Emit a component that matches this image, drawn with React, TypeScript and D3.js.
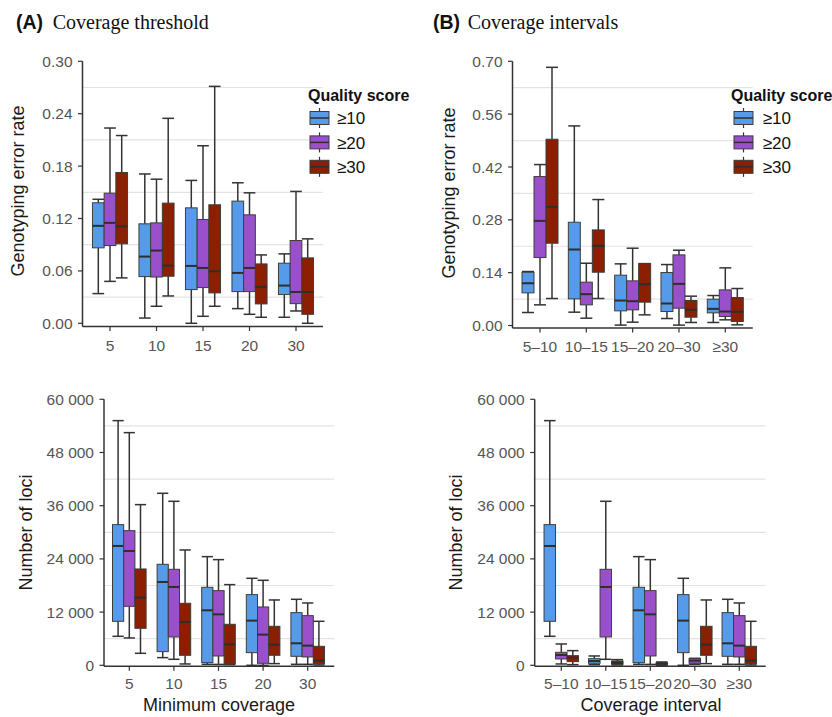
import React from "react";
import * as d3 from "d3";

// ---------- data: [min, q1, median, q3, max] ----------
const qualityScores = ["≥10", "≥20", "≥30"];
const thresholdCats = ["5", "10", "15", "20", "30"];
const intervalCats = ["5–10", "10–15", "15–20", "20–30", "≥30"];

const errThreshQ10 = [[0.034, 0.0864, 0.1116, 0.138, 0.142], [0.006, 0.0535, 0.0764, 0.1139, 0.171], [0.0, 0.0386, 0.0657, 0.1322, 0.1636], [0.0168, 0.0363, 0.0577, 0.1399, 0.1609], [0.0069, 0.0329, 0.0432, 0.0688, 0.0795]];
const errThreshQ20 = [[0.048, 0.089, 0.115, 0.149, 0.2236], [0.0195, 0.053, 0.0833, 0.115, 0.165], [0.008, 0.0409, 0.0634, 0.1189, 0.2033], [0.0103, 0.0363, 0.0634, 0.1242, 0.1494], [0.0141, 0.0225, 0.0359, 0.0948, 0.151]];
const errThreshQ30 = [[0.052, 0.091, 0.111, 0.1727, 0.215], [0.0313, 0.0539, 0.066, 0.1376, 0.2347], [0.0195, 0.0348, 0.0596, 0.1357, 0.2713], [0.0069, 0.0222, 0.0417, 0.068, 0.0783], [0.0, 0.0103, 0.0359, 0.0749, 0.0967]];

const errIntQ10 = [[0.0344, 0.0865, 0.112, 0.141, 0.143], [0.0353, 0.0706, 0.2013, 0.2736, 0.5288], [0.001, 0.0388, 0.0662, 0.1333, 0.1633], [0.0185, 0.037, 0.0583, 0.1403, 0.1615], [0.008, 0.0335, 0.0441, 0.0697, 0.0794]];
const errIntQ20 = [[0.0547, 0.18, 0.2772, 0.3946, 0.4264], [0.0194, 0.0547, 0.083, 0.1148, 0.165], [0.0088, 0.0415, 0.0644, 0.1183, 0.2048], [0.001, 0.0459, 0.1103, 0.1871, 0.1995], [0.015, 0.0238, 0.037, 0.0944, 0.1527]];
const errIntQ30 = [[0.0715, 0.218, 0.3143, 0.4935, 0.684], [0.0715, 0.1412, 0.211, 0.2533, 0.3337], [0.0282, 0.0618, 0.1095, 0.164, 0.164], [0.008, 0.022, 0.0415, 0.0662, 0.0777], [0.0018, 0.0106, 0.0362, 0.0741, 0.098]];

const lociThreshQ10 = [[6541, 9925, 26917, 31729, 55188], [1729, 3083, 18797, 22782, 38797], [225, 600, 12406, 17594, 24511], [0, 2857, 10075, 15940, 19624], [225, 2030, 4962, 11880, 14887]];
const lociThreshQ20 = [[6165, 13308, 25789, 30376, 52481], [1353, 6391, 17669, 21654, 36992], [200, 2105, 11504, 16842, 23835], [0, 451, 6917, 13158, 19173], [225, 1880, 4436, 11203, 14060]];
const lociThreshQ30 = [[2707, 8346, 15263, 21729, 36241], [300, 2256, 9774, 13985, 26015], [150, 300, 4737, 9248, 18195], [376, 2256, 4662, 8797, 14737], [75, 300, 1053, 4286, 9925]];

const lociIntQ10 = [[6541, 9925, 26917, 31729, 55188], [150, 451, 977, 1504, 2105], [225, 600, 12406, 17594, 24511], [0, 2857, 10075, 15940, 19624], [225, 2030, 4962, 11880, 14887]];
const lociIntQ20 = [[300, 1429, 2331, 2932, 4812], [1353, 6391, 17669, 21654, 36992], [200, 2105, 11504, 16842, 23835], [225, 451, 1053, 1504, 1579], [225, 1880, 4436, 11203, 14060]];
const lociIntQ30 = [[150, 827, 1729, 2180, 3308], [75, 225, 526, 977, 1278], [0, 150, 376, 600, 752], [376, 2256, 4662, 8797, 14737], [75, 300, 1053, 4286, 9925]];

const errThreshTicks = [0, 0.06, 0.12, 0.18, 0.24, 0.3];
const errIntTicks = [0, 0.14, 0.28, 0.42, 0.56, 0.7];
const lociTicks = [0, 12000, 24000, 36000, 48000, 60000];

const colors = ["#559bea", "#9a50cb", "#8b1f00"];
const SANS = '"Liberation Sans", Arial, Helvetica, sans-serif';
const SERIF = '"Liberation Serif", "Times New Roman", serif';
const AXIS = "#333333";

type PanelProps = {
  series: number[][][];
  cats: string[];
  ticks: number[];
  fmt: (v: number) => string;
  axisX: number;
  axisEnd: number;
  yTop: number;
  yZero: number;
  axisY: number;
  catFirst: number;
  catLast: number;
  boxW: number;
  xTickY: number;
  yTitle: string;
  yTitleX: number;
  yTitleY: number;
  xTitle?: string;
  xTitleX?: number;
  xTitleY?: number;
  legend?: { titleX: number; boxX: number; textX: number };
};

function Panel(p: PanelProps) {
  const y = d3.scaleLinear().domain([p.ticks[0], p.ticks[p.ticks.length - 1]]).range([p.yZero, p.yTop]);
  const x = d3.scalePoint<string>().domain(p.cats).range([p.catFirst, p.catLast]);
  const grid = p.ticks.slice(0, -1).map((t, i) => (t + p.ticks[i + 1]) / 2);
  const offsets = [-p.boxW, 0, p.boxW];
  return (
    <g>
      {grid.map((g, i) => (
        <line key={"g" + i} x1={p.axisX} x2={p.axisEnd} y1={y(g)} y2={y(g)} stroke="#e3e3e3" strokeWidth={1.2} />
      ))}
      {p.series.map((ser, si) =>
        ser.map((d, ci) => {
          const cx = (x(p.cats[ci]) as number) + offsets[si];
          const [mn, q1, md, q3, mx] = d;
          const hw = p.boxW / 2;
          return (
            <g key={si + "-" + ci}>
              <line x1={cx} x2={cx} y1={y(mx)} y2={y(q3)} stroke={AXIS} strokeWidth={1.5} />
              <line x1={cx} x2={cx} y1={y(q1)} y2={y(mn)} stroke={AXIS} strokeWidth={1.5} />
              <line x1={cx - hw} x2={cx + hw} y1={y(mx)} y2={y(mx)} stroke={AXIS} strokeWidth={1.5} />
              <line x1={cx - hw} x2={cx + hw} y1={y(mn)} y2={y(mn)} stroke={AXIS} strokeWidth={1.5} />
              <rect x={cx - hw} y={y(q3)} width={p.boxW} height={Math.max(0.8, y(q1) - y(q3))} fill={colors[si]} stroke="#3d3d3d" strokeWidth={1} />
              <line x1={cx - hw} x2={cx + hw} y1={y(md)} y2={y(md)} stroke="#2e2e2e" strokeWidth={2} />
            </g>
          );
        })
      )}
      {/* axes */}
      <line x1={p.axisX} x2={p.axisX} y1={y(p.ticks[p.ticks.length - 1])} y2={p.axisY} stroke={AXIS} strokeWidth={1.5} />
      <line x1={p.axisX} x2={p.axisEnd} y1={p.axisY} y2={p.axisY} stroke={AXIS} strokeWidth={1.5} />
      {p.ticks.map((t, i) => (
        <g key={"yt" + i}>
          <line x1={p.axisX - 4.5} x2={p.axisX} y1={y(t)} y2={y(t)} stroke={AXIS} strokeWidth={1.2} />
          <text x={p.axisX - 10} y={y(t)} dy="0.36em" textAnchor="end" fontFamily={SANS} fontSize={15.5} fill="#555">
            {p.fmt(t)}
          </text>
        </g>
      ))}
      {p.cats.map((c) => (
        <g key={"xt" + c}>
          <line x1={x(c)} x2={x(c)} y1={p.axisY} y2={p.axisY + 4.5} stroke={AXIS} strokeWidth={1.2} />
          <text x={x(c)} y={p.xTickY} textAnchor="middle" fontFamily={SANS} fontSize={15.5} fill="#555">
            {c}
          </text>
        </g>
      ))}
      <text transform={`translate(${p.yTitleX},${p.yTitleY}) rotate(-90)`} textAnchor="middle" fontFamily={SANS} fontSize={18} fill="#1a1a1a">
        {p.yTitle}
      </text>
      {p.xTitle && (
        <text x={p.xTitleX} y={p.xTitleY} textAnchor="middle" fontFamily={SANS} fontSize={18} fill="#1a1a1a">
          {p.xTitle}
        </text>
      )}
      {p.legend && (
        <g>
          <text x={p.legend.titleX} y={100.5} fontFamily={SANS} fontWeight="bold" fontSize={16} fill="#111">
            Quality score
          </text>
          {qualityScores.map((q, i) => {
            const cy = 118 + i * 24.4;
            const bx = p.legend!.boxX;
            const bw = 19;
            return (
              <g key={"lg" + i}>
                <line x1={bx + bw / 2} x2={bx + bw / 2} y1={cy - 10} y2={cy + 10} stroke={AXIS} strokeWidth={1.2} />
                <rect x={bx} y={cy - 6.5} width={bw} height={13} fill={colors[i]} stroke="#3d3d3d" strokeWidth={1} />
                <line x1={bx} x2={bx + bw} y1={cy} y2={cy} stroke="#2e2e2e" strokeWidth={1.5} />
                <text x={p.legend!.textX} y={cy} dy="0.36em" fontFamily={SANS} fontSize={17} fill="#111">
                  {q}
                </text>
              </g>
            );
          })}
        </g>
      )}
    </g>
  );
}

const errFmt = d3.format(".2f");
const lociFmt = (v: number) => d3.format(",")(v).replace(/,/g, " ");

export default function App() {
  return (
    <svg width={832} height={717} style={{ position: "absolute", left: 0, top: 0, background: "#fff" }}>
      <rect x={0} y={0} width={832} height={717} fill="#fff" />
      <text x={16} y={28.5} fontFamily={SANS} fontWeight="bold" fontSize={19.5} fill="#111">(A)</text>
      <text x={52.7} y={28.5} fontFamily={SERIF} fontSize={20} fill="#111">Coverage threshold</text>
      <text x={433} y={28.5} fontFamily={SANS} fontWeight="bold" fontSize={19.5} fill="#111">(B)</text>
      <text x={467.7} y={28.5} fontFamily={SERIF} fontSize={20} fill="#111">Coverage intervals</text>

      <Panel
        series={[errThreshQ10, errThreshQ20, errThreshQ30]}
        cats={thresholdCats}
        ticks={errThreshTicks}
        fmt={errFmt}
        axisX={82.5}
        axisEnd={323}
        yTop={61.3}
        yZero={323.3}
        axisY={326.5}
        catFirst={110}
        catLast={296}
        boxW={11.7}
        xTickY={350.5}
        yTitle="Genotyping error rate"
        yTitleX={24}
        yTitleY={191}
        legend={{ titleX: 308, boxX: 310, textX: 337 }}
      />
      <Panel
        series={[errIntQ10, errIntQ20, errIntQ30]}
        cats={intervalCats}
        ticks={errIntTicks}
        fmt={errFmt}
        axisX={512.5}
        axisEnd={752.7}
        yTop={61.3}
        yZero={325.5}
        axisY={328}
        catFirst={540}
        catLast={725.3}
        boxW={12}
        xTickY={352}
        yTitle="Genotyping error rate"
        yTitleX={455}
        yTitleY={193}
        legend={{ titleX: 731, boxX: 734, textX: 762.7 }}
      />
      <Panel
        series={[lociThreshQ10, lociThreshQ20, lociThreshQ30]}
        cats={thresholdCats}
        ticks={lociTicks}
        fmt={lociFmt}
        axisX={104}
        axisEnd={334.3}
        yTop={399.3}
        yZero={665.3}
        axisY={666.3}
        catFirst={129.3}
        catLast={307.7}
        boxW={11.2}
        xTickY={689}
        yTitle="Number of loci"
        yTitleX={31.5}
        yTitleY={532.5}
        xTitle="Minimum coverage"
        xTitleX={219}
        xTitleY={711}
      />
      <Panel
        series={[lociIntQ10, lociIntQ20, lociIntQ30]}
        cats={intervalCats}
        ticks={lociTicks}
        fmt={lociFmt}
        axisX={534.7}
        axisEnd={765.7}
        yTop={399.3}
        yZero={665.3}
        axisY={666.3}
        catFirst={561.3}
        catLast={739.3}
        boxW={11.5}
        xTickY={689}
        yTitle="Number of loci"
        yTitleX={461.5}
        yTitleY={532.5}
        xTitle="Coverage interval"
        xTitleX={651}
        xTitleY={711}
      />
    </svg>
  );
}
